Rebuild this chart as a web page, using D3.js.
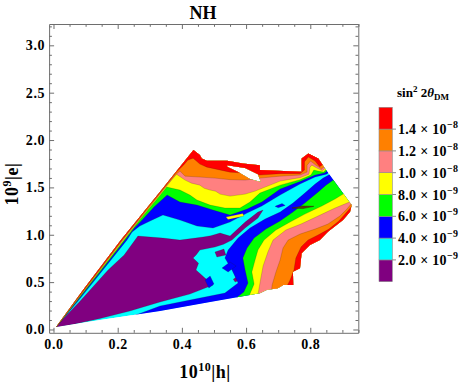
<!DOCTYPE html>
<html lang="en">
<head>
<meta charset="UTF-8">
<title>NH</title>
<style>
  body { margin: 0; background: #fff; }
  svg text { font-family: "Liberation Serif", "Times New Roman", serif; font-weight: bold; fill: #000; }
  .axis path, .axis line { stroke: #6e6e6e; }
</style>
</head>
<body>
<svg width="469" height="383"></svg>
<script src="https://d3js.org/d3.v7.min.js"></script>
<script>
// contour levels of sin^2 2theta_DM and the colours of the bands between them
const levels = [2e-9, 4e-9, 6e-9, 8e-9, 1.0e-8, 1.2e-8, 1.4e-8];
const bandColors = ["#800080", "#00ffff", "#0000ff", "#00ff00", "#ffff00", "#ff8080", "#ff8000", "#ff0000"];

const xTicks = [0, 0.2, 0.4, 0.6, 0.8];
const yTicks = [0, 0.5, 1.0, 1.5, 2.0, 2.5, 3.0];

// outline of the scanned region, (10^10|h|, 10^9|e|)
const domainOutline = [[0.008,0.026],[0.092,0.417],[0.210,0.944],[0.332,1.454],[0.436,1.894],[0.456,1.841],
  [0.462,1.806],[0.478,1.781],[0.541,1.781],[0.590,1.753],[0.643,1.735],[0.643,1.683],[0.773,1.665],
  [0.773,1.806],[0.794,1.859],[0.825,1.806],[0.846,1.700],[0.929,1.313],[0.924,1.243],[0.902,1.155],
  [0.855,1.032],[0.830,0.944],[0.799,0.891],[0.773,0.804],[0.768,0.646],[0.746,0.610],[0.747,0.469],
  [0.716,0.469],[0.699,0.435],[0.664,0.417],[0.643,0.382],[0.488,0.290],[0.332,0.195],[0.145,0.100]];
const dataHole = [[0.541,1.735],[0.597,1.704],[0.637,1.640],[0.646,1.556],[0.612,1.588],[0.575,1.662],[0.541,1.719]];

// region below 2e-9
const below2 = [[0.005,0.021],[0.086,0.311],[0.170,0.628],[0.220,0.786],[0.263,0.986],[0.341,0.965],
  [0.394,0.944],[0.430,0.960],[0.466,0.976],[0.490,0.990],[0.519,1.018],[0.550,0.986],[0.597,1.134],
  [0.637,1.239],[0.653,1.261],[0.637,1.176],[0.597,1.071],[0.556,0.944],[0.530,0.900],[0.503,0.870],
  [0.456,0.839],[0.445,0.790],[0.435,0.754],[0.452,0.700],[0.444,0.628],[0.472,0.543],[0.497,0.469],
  [0.425,0.374],[0.332,0.290],[0.238,0.195],[0.145,0.116],[0.067,0.058],[0.011,0.021]];
const below2Islands = [
  [[0.503,0.818],[0.531,0.849],[0.537,0.786],[0.509,0.765]],
  [[0.560,0.530],[0.572,0.560],[0.578,0.520],[0.566,0.500]]];

// regions above each level, upper-left side of the valley
const above4Upper = [[-0.042,-0.005],[0.009,0.026],[0.079,0.311],[0.154,0.628],[0.229,0.944],[0.245,1.029],
  [0.269,1.092],[0.301,1.145],[0.341,1.208],[0.394,1.155],[0.447,1.092],[0.497,1.071],[0.550,1.134],
  [0.603,1.229],[0.649,1.303],[0.706,1.419],[0.768,1.535],[0.815,1.609],[0.850,1.640],[0.871,1.683],
  [0.908,1.894],[0.908,2.210],[0.410,2.210],[-0.073,0.100]];
const above6Upper = [[-0.042,-0.005],[0.009,0.026],[0.076,0.311],[0.150,0.628],[0.223,0.944],[0.252,1.071],
  [0.276,1.155],[0.313,1.292],[0.354,1.419],[0.394,1.345],[0.447,1.313],[0.497,1.261],[0.550,1.208],
  [0.603,1.271],[0.649,1.345],[0.706,1.482],[0.768,1.561],[0.815,1.630],[0.844,1.651],[0.864,1.704],
  [0.908,1.894],[0.908,2.210],[0.410,2.210],[-0.073,0.100]];
const above8Upper = [[-0.042,-0.005],[0.009,0.026],[0.074,0.311],[0.147,0.628],[0.220,0.944],[0.249,1.071],
  [0.269,1.155],[0.302,1.292],[0.333,1.419],[0.353,1.503],[0.394,1.472],[0.425,1.419],[0.447,1.366],
  [0.488,1.313],[0.534,1.282],[0.581,1.282],[0.612,1.345],[0.643,1.440],[0.706,1.524],[0.768,1.582],
  [0.802,1.630],[0.811,1.683],[0.824,1.672],[0.841,1.662],[0.861,1.725],
  [0.908,1.894],[0.908,2.210],[0.410,2.210],[-0.073,0.100]];
const above10Upper = [[-0.042,-0.005],[0.008,0.026],[0.073,0.311],[0.145,0.628],[0.217,0.944],[0.247,1.071],
  [0.267,1.155],[0.299,1.292],[0.330,1.419],[0.350,1.503],[0.368,1.577],[0.383,1.640],[0.410,1.577],
  [0.430,1.545],[0.456,1.524],[0.470,1.490],[0.488,1.472],[0.505,1.460],[0.519,1.429],[0.550,1.408],
  [0.597,1.429],[0.628,1.461],[0.659,1.503],[0.706,1.567],[0.768,1.603],[0.796,1.640],[0.799,1.714],
  [0.805,1.735],[0.818,1.709],[0.838,1.677],[0.861,1.746],[0.908,1.894],[0.908,2.210],[0.410,2.210],[-0.073,0.100]];
const above12Upper = [[-0.042,-0.005],[0.008,0.026],[0.072,0.311],[0.144,0.628],[0.215,0.944],[0.245,1.071],
  [0.265,1.155],[0.298,1.292],[0.328,1.419],[0.348,1.503],[0.366,1.577],[0.379,1.630],[0.394,1.672],
  [0.410,1.619],[0.456,1.609],[0.503,1.598],[0.550,1.582],[0.597,1.577],[0.643,1.598],[0.706,1.619],
  [0.768,1.630],[0.790,1.662],[0.790,1.735],[0.801,1.778],[0.813,1.746],[0.835,1.693],[0.861,1.767],
  [0.908,1.894],[0.908,2.210],[0.410,2.210],[-0.073,0.100]];
const above14Upper = [[-0.042,-0.005],[0.008,0.026],[0.071,0.311],[0.142,0.628],[0.213,0.944],[0.243,1.071],
  [0.263,1.155],[0.295,1.292],[0.326,1.419],[0.346,1.503],[0.363,1.577],[0.383,1.662],[0.405,1.735],
  [0.419,1.788],[0.435,1.809],[0.456,1.746],[0.478,1.714],[0.550,1.661],[0.597,1.651],[0.643,1.630],
  [0.706,1.645],[0.768,1.645],[0.782,1.683],[0.782,1.772],[0.794,1.820],[0.815,1.778],[0.829,1.719],
  [0.861,1.788],[0.908,1.894],[0.908,2.210],[0.410,2.210],[-0.073,0.100]];

// regions above each level, lower-right side of the valley
const above4Lower = [[0.226,0.121],[0.269,0.169],[0.332,0.248],[0.456,0.332],[0.534,0.385],[0.575,0.491],
  [0.556,0.628],[0.534,0.754],[0.544,0.839],[0.575,0.965],[0.612,1.071],[0.659,1.166],[0.706,1.239],
  [0.746,1.334],[0.783,1.440],[0.815,1.535],[0.840,1.598],[0.860,1.635],[0.908,1.735],[1.017,1.735],
  [1.017,-0.164],[0.226,-0.164]];
const above4Islands = [
  [[0.472,0.522],[0.488,0.564],[0.500,0.480],[0.484,0.438]],
  [[0.525,0.649],[0.550,0.712],[0.569,0.670],[0.544,0.607]],
  [[0.690,1.300],[0.712,1.330],[0.722,1.310],[0.700,1.285]]];
const above6Lower = [[0.556,0.248],[0.569,0.332],[0.593,0.396],[0.606,0.491],[0.597,0.628],[0.590,0.754],
  [0.603,0.860],[0.625,0.965],[0.662,1.060],[0.706,1.145],[0.746,1.239],[0.783,1.334],[0.824,1.450],
  [0.849,1.524],[0.872,1.577],[0.924,1.683],[1.017,1.683],[1.017,-0.164],[0.556,-0.164]];
const above8Lower = [[0.597,0.248],[0.612,0.374],[0.625,0.480],[0.618,0.607],[0.628,0.733],[0.637,0.839],
  [0.656,0.944],[0.693,1.050],[0.737,1.134],[0.783,1.218],[0.836,1.303],[0.877,1.377],[0.905,1.435],
  [0.955,1.524],[1.017,1.524],[1.017,-0.164],[0.597,-0.164]];
const above8Islands = [
  [[0.537,1.187],[0.590,1.224],[0.593,1.197],[0.544,1.160]]];
const above10Lower = [[0.631,0.248],[0.639,0.406],[0.646,0.543],[0.653,0.670],[0.668,0.818],[0.684,0.944],
  [0.724,1.050],[0.771,1.113],[0.824,1.197],[0.877,1.282],[0.922,1.345],[0.970,1.419],[1.017,1.419],
  [1.017,-0.164],[0.631,-0.164]];
const above12Lower = [[0.674,0.248],[0.681,0.469],[0.693,0.607],[0.706,0.733],[0.715,0.860],[0.731,0.944],
  [0.768,1.007],[0.815,1.060],[0.855,1.113],[0.892,1.197],[0.914,1.271],[0.927,1.324],[0.980,1.387],
  [1.017,1.387],[1.017,-0.164],[0.674,-0.164]];
const above14Lower = [[0.715,0.248],[0.721,0.417],[0.737,0.522],[0.749,0.628],[0.755,0.754],[0.771,0.870],
  [0.793,0.944],[0.824,0.997],[0.858,1.060],[0.889,1.145],[0.911,1.229],[0.928,1.297],[0.986,1.345],
  [1.017,1.345],[1.017,-0.164],[0.715,-0.164]];
// narrow spike where all the contours crowd together
const crowdedSpike = [[0.743,1.282],[0.777,1.303],[0.811,1.300],[0.777,1.276]];

const svg = d3.select("svg");

const x = d3.scaleLinear().domain([-0.0137, 0.9496]).range([49.1, 358.3]);
const y = d3.scaleLinear().domain([-0.035, 3.225]).range([332.8, 24]);

const line = d3.line().x(d => x(d[0])).y(d => y(d[1]));
const closed = p => line(p) + "Z";

svg.append("clipPath").attr("id", "dataArea")
  .append("path")
  .attr("d", closed(domainOutline) + closed(dataHole))
  .attr("clip-rule", "evenodd");

const plot = svg.append("g").attr("clip-path", "url(#dataArea)");

// the band between 2e-9 and 4e-9 fills the region, the others are stacked on top
plot.append("path").attr("d", closed(domainOutline)).attr("fill", bandColors[1]);

const layers = [
  { band: 0, polys: [below2, ...below2Islands] },
  { band: 2, polys: [above4Upper, above4Lower, ...above4Islands] },
  { band: 3, polys: [above6Upper, above6Lower] },
  { band: 4, polys: [above8Upper, above8Lower, ...above8Islands] },
  { band: 5, polys: [above10Upper, above10Lower] },
  { band: 6, polys: [above12Upper, above12Lower] },
  { band: 7, polys: [above14Upper, above14Lower] }
];

layers.forEach(l => {
  plot.selectAll(null)
    .data(l.polys)
    .enter().append("path")
    .attr("d", closed)
    .attr("fill", bandColors[l.band])
    .attr("stroke", "rgba(40,30,0,0.3)")
    .attr("stroke-width", 0.6);
});

plot.append("path")
  .attr("d", closed(crowdedSpike))
  .attr("fill", "#5a3a10")
  .attr("stroke", "#3a2a00")
  .attr("stroke-width", 0.5);

// frame with inward ticks on all four sides
const xMinor = d3.range(0, 0.96, 0.05).filter(v => !xTicks.some(t => Math.abs(t - v) < 1e-9));
const yMinor = d3.range(0, 3.21, 0.1).filter(v => !yTicks.some(t => Math.abs(t - v) < 1e-9));
const fmt = d3.format(".1f");

const axes = [
  { ax: d3.axisBottom, sc: x, tr: `translate(0,${y.range()[0]})`, major: xTicks, minor: xMinor, lab: true },
  { ax: d3.axisTop, sc: x, tr: `translate(0,${y.range()[1]})`, major: xTicks, minor: xMinor, lab: false },
  { ax: d3.axisLeft, sc: y, tr: `translate(${x.range()[0]},0)`, major: yTicks, minor: yMinor, lab: true },
  { ax: d3.axisRight, sc: y, tr: `translate(${x.range()[1]},0)`, major: yTicks, minor: yMinor, lab: false }
];

axes.forEach((a, i) => {
  const vertical = i > 1;
  svg.append("g").attr("class", "axis").attr("transform", a.tr)
    .call(a.ax(a.sc).tickValues(a.minor).tickSizeInner(-2.8).tickSizeOuter(0).tickFormat(""))
    .call(g => g.select(".domain").remove());
  const gm = svg.append("g").attr("class", "axis").attr("transform", a.tr)
    .call(a.ax(a.sc).tickValues(a.major).tickSizeInner(-5).tickSizeOuter(0)
      .tickPadding(vertical ? 4 : 6.5)
      .tickFormat(a.lab ? fmt : ""));
  gm.selectAll("text").attr("font-size", 14).attr("letter-spacing", "0.6px");
});

// title and axis labels
svg.append("text").attr("x", 203).attr("y", 18.5).attr("text-anchor", "middle")
  .attr("font-size", 18).text("NH");

const xl = svg.append("text").attr("x", 205).attr("y", 378).attr("text-anchor", "middle")
  .attr("font-size", 18).attr("letter-spacing", "0.5px");
xl.append("tspan").text("10");
xl.append("tspan").attr("dy", -7).attr("font-size", 12).text("10");
xl.append("tspan").attr("dy", 7).text("|h|");

const yl = svg.append("text").attr("transform", "translate(18,184) rotate(-90)")
  .attr("text-anchor", "middle").attr("font-size", 18).attr("letter-spacing", "0.5px");
yl.append("tspan").text("10");
yl.append("tspan").attr("dy", -7).attr("font-size", 12).text("9");
yl.append("tspan").attr("dy", 7).text("|e|");

// colour bar legend
const bounds = [0, ...levels, 1.6e-8];
const ly = d3.scaleLinear().domain([0, 1.6e-8]).range([281.7, 107.3]);
const leg = svg.append("g");

leg.selectAll("rect")
  .data(bandColors)
  .enter().append("rect")
  .attr("x", 379)
  .attr("width", 13.3)
  .attr("y", (c, i) => ly(bounds[i + 1]))
  .attr("height", (c, i) => ly(bounds[i]) - ly(bounds[i + 1]))
  .attr("fill", c => c)
  .attr("stroke", "#8a8a8a")
  .attr("stroke-width", 0.6);

leg.selectAll("line")
  .data(levels)
  .enter().append("line")
  .attr("x1", 392.3).attr("x2", 396)
  .attr("y1", d => ly(d)).attr("y2", d => ly(d))
  .attr("stroke", "#8a8a8a");

const lab = leg.selectAll("text.lv")
  .data(levels)
  .enter().append("text")
  .attr("class", "lv")
  .attr("x", 398)
  .attr("y", d => ly(d) + 5)
  .attr("font-size", 14)
  .attr("letter-spacing", "0.3px");
lab.append("tspan").text(d => {
  const e = Math.floor(Math.log10(d) + 1e-9);
  return (d / Math.pow(10, e)).toFixed(1) + " \u00d7 10";
});
lab.append("tspan").attr("dy", -6).attr("font-size", 10)
  .text(d => "\u2212" + (-Math.floor(Math.log10(d) + 1e-9)));

const lt = leg.append("text").attr("x", 423).attr("y", 97).attr("text-anchor", "middle").attr("font-size", 13);
lt.append("tspan").text("sin");
lt.append("tspan").attr("dy", -5).attr("font-size", 9).text("2");
lt.append("tspan").attr("dy", 5).text(" 2");
lt.append("tspan").attr("font-style", "italic").text("\u03b8");
lt.append("tspan").attr("dy", 3).attr("font-size", 9).text("DM");
</script>
</body>
</html>
